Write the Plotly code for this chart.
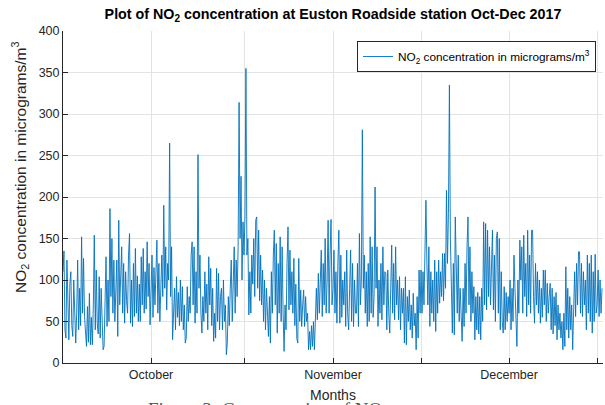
import pandas as pd
import plotly.graph_objects as go

# NO2 readings, Euston Roadside, one value every 4 hours (6 per day)
oct_vals = [
    110, 135, 40, 30, 124, 60,   28, 95, 110, 45, 32, 100,   70, 24, 60, 124, 40, 90,
    45, 152, 60, 126, 56, 30,    20, 68, 25, 84, 22, 55,     22, 70, 154, 40, 112, 48,
    35, 104, 30, 90, 45, 16,     20, 60, 128, 44, 100, 50,   186, 80, 150, 60, 124, 50,
    90, 124, 32, 172, 70, 110,   140, 60, 120, 48, 110, 75,  60, 130, 156, 48, 100, 44,
    120, 56, 138, 60, 105, 50,   95, 50, 128, 70, 138, 60,   110, 65, 146, 80, 120, 46,
    90, 130, 55, 115, 70, 100,   148, 60, 120, 50, 95, 130,  80, 190, 90, 140, 64, 120,
    100, 265, 80, 140, 28, 60,   90, 40, 104, 55, 85, 45,    100, 50, 92, 40, 70, 24,
    30, 92, 50, 80, 60, 130,     146, 70, 140, 48, 110, 60,  251, 90, 130, 60, 36, 80,
    50, 110, 60, 95, 40, 128,    70, 114, 45, 90, 26, 60,    30, 114, 50, 108, 40, 80,
    90, 40, 100, 50, 70, 10,     25, 80, 45, 90, 124, 50,    100, 140, 60, 124, 80, 140,
    314, 150, 225, 100, 170, 130,
]
nov_vals = [
    176, 355, 130, 150, 58, 110, 60, 130, 95, 150, 80, 172,  176, 90, 160, 75, 130, 70,
    112, 50, 100, 40, 90, 45,    32, 80, 24, 110, 60, 130,   160, 70, 144, 36, 120, 60,
    152, 50, 140, 60, 14, 70,    40, 120, 164, 64, 136, 70,  110, 60, 126, 45, 95, 30,
    24, 126, 50, 88, 44, 70,     88, 44, 80, 50, 60, 16,     38, 16, 45, 20, 50, 16,
    55, 90, 52, 108, 60, 120,    136, 56, 120, 70, 150, 60,  100, 172, 60, 130, 173, 70,
    90, 136, 60, 110, 48, 120,   160, 48, 130, 55, 100, 70,  110, 44, 136, 60, 40, 90,
    136, 50, 120, 44, 100, 60,   60, 120, 44, 156, 70, 100,  281, 90, 130, 60, 110, 44,
    120, 50, 152, 60, 140, 55,   80, 212, 90, 140, 44, 100,  60, 120, 52, 140, 70, 110,
    108, 40, 112, 60, 36, 90,    142, 60, 120, 52, 140, 70,  100, 52, 104, 40, 90, 60,
    90, 24, 104, 22, 80, 50,     88, 40, 70, 30, 84, 45,     60, 16, 80, 30, 112, 60,
]
dec_vals = [
    112, 60, 110, 70, 140, 196,  120, 70, 140, 44, 110, 60,  100, 50, 124, 38, 110, 60,
    124, 72, 110, 80, 132, 75,   132, 90, 208, 120, 180, 335, 150, 100, 36, 120, 34, 176,
    110, 60, 130, 50, 90, 40,    26, 90, 44, 120, 60, 140,   176, 70, 140, 50, 110, 60,
    92, 28, 80, 40, 85, 35,      80, 28, 90, 50, 170, 70,    168, 64, 160, 80, 140, 70,
    120, 160, 64, 130, 50, 150,  158, 60, 150, 40, 110, 50,  36, 92, 40, 85, 50, 80,
    60, 100, 40, 90, 50, 130,    90, 40, 20, 100, 60, 148,   100, 140, 60, 154, 80, 120,
    56, 160, 70, 130, 60, 160,   160, 80, 48, 120, 70, 110,  60, 100, 48, 90, 55, 112,
    70, 112, 50, 96, 60, 80,     96, 40, 90, 35, 80, 45,     85, 28, 70, 40, 60, 30,
    50, 16, 60, 20, 116, 40,     90, 30, 80, 40, 70, 16,     50, 110, 56, 120, 70, 134,
    134, 60, 120, 56, 110, 70,   100, 40, 130, 60, 120, 50,  130, 36, 110, 50, 131, 60,
    70, 112, 56, 100, 60, 90,
]

no2 = oct_vals + nov_vals + dec_vals
times = pd.date_range("2017-10-01 00:00", periods=len(no2), freq="4h")

tick_dates = ["2017-10-16", "2017-11-01", "2017-11-16", "2017-12-01", "2017-12-16", "2017-12-31"]
tick_text = ["October", "", "November", "", "December", ""]
y_ticks = [0, 50, 100, 150, 200, 250, 300, 350, 400]

FONT = "Liberation Sans, Arial, sans-serif"
AX = "#262626"
GRID = "#e3e3e3"

fig = go.Figure()
fig.add_trace(go.Scatter(
    x=times, y=no2, mode="lines",
    line=dict(color="#0072BD", width=0.9),
    name="NO<sub>2</sub> concentration in micrograms/m<sup>3</sup>",
    showlegend=True,
))

fig.update_layout(
    width=605, height=405,
    margin=dict(l=63, r=2, t=31, b=42),
    paper_bgcolor="white", plot_bgcolor="white",
    font=dict(family=FONT, color=AX, size=12.5),
    title=dict(
        text="<b>Plot of NO<sub>2</sub> concentration at Euston Roadside station Oct-Dec 2017</b>",
        x=0.5, xref="paper", y=1 - 14 / 405, yref="container",
        xanchor="center", yanchor="middle",
        font=dict(family=FONT, size=14.3, color="black"),
    ),
    legend=dict(
        x=(357 - 63) / 540, y=(363 - 41) / 332, xanchor="left", yanchor="top",
        bgcolor="white", bordercolor=AX, borderwidth=1,
        font=dict(family=FONT, size=11.8, color="black"),
        itemwidth=30, tracegroupgap=0,
    ),
    xaxis=dict(
        range=["2017-10-01 00:00", "2018-01-01 00:00"],
        tickmode="array", tickvals=tick_dates, ticktext=tick_text,
        ticks="inside", ticklen=5, tickcolor=AX,
        showgrid=True, gridcolor=GRID, gridwidth=1,
        showline=True, linecolor=AX, linewidth=1,
        zeroline=False, tickfont=dict(size=12.5, color=AX),
    ),
    yaxis=dict(
        range=[0, 400], tickmode="array", tickvals=y_ticks,
        ticks="inside", ticklen=5, tickcolor=AX,
        showgrid=True, gridcolor=GRID, gridwidth=1,
        showline=True, linecolor=AX, linewidth=1,
        zeroline=False, tickfont=dict(size=12.5, color=AX),
    ),
    annotations=[
        dict(text="NO<sub>2</sub> concentration in micrograms/m<sup>3</sup>",
             xref="paper", yref="paper", x=(20 - 63) / 540, y=(363 - 167) / 332,
             xanchor="center", yanchor="middle", textangle=-90, showarrow=False,
             font=dict(family=FONT, size=15.5, color=AX)),
        dict(text="Months", xref="paper", yref="paper",
             x=0.5, y=(363 - 395) / 332, xanchor="center", yanchor="middle",
             showarrow=False, font=dict(family=FONT, size=14, color=AX)),
        dict(text="Figure 3: Concentration of NO<sub>2</sub>", xref="paper", yref="paper",
             x=(268 - 63) / 540, y=(363 - 397) / 332, xanchor="center", yanchor="top",
             showarrow=False, font=dict(family="Liberation Serif, serif", size=19, color="#555")),
    ],
)

fig.write_html("out.html")
